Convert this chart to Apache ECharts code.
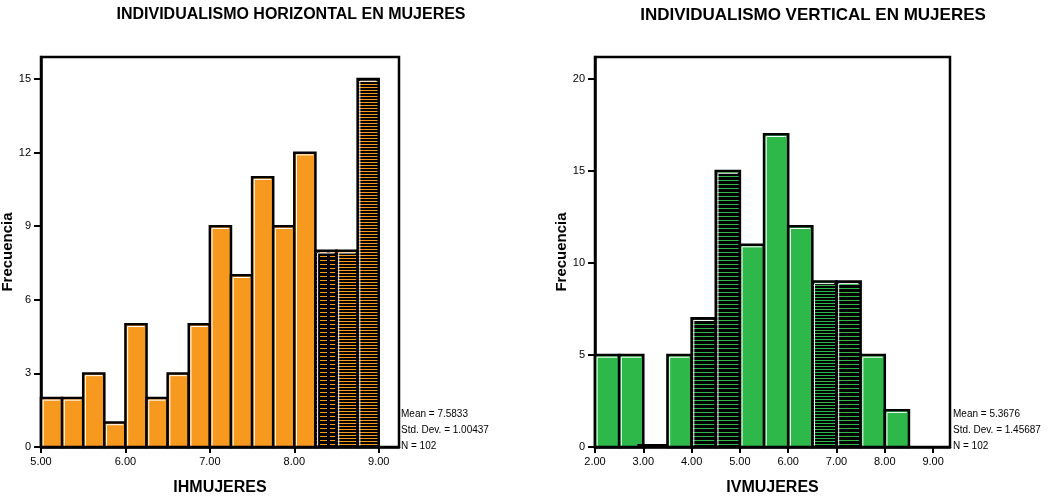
<!DOCTYPE html>
<html><head><meta charset="utf-8">
<script src="https://cdn.jsdelivr.net/npm/echarts@6/dist/echarts.min.js"></script>
<style>html,body{margin:0;padding:0;background:#fff}#c{width:1056px;height:496px}</style>
</head><body><div id="c"></div>
<script>
// ---------- DATA ----------
const hBinStarts = [5.00,5.25,5.50,5.75,6.00,6.25,6.50,6.75,7.00,7.25,7.50,7.75,8.00,8.25,8.50,8.75];
const hBinWidth = 0.25;
const hCounts = [2,2,3,1,5,2,3,5,9,7,11,9,12,8,8,15];
const hXTicks = [5,6,7,8,9];
const hYTicks = [0,3,6,9,12,15];
const hStats = ['Mean = 7.5833','Std. Dev. = 1.00437','N = 102'];
const hTitle = 'INDIVIDUALISMO HORIZONTAL EN MUJERES';
const hXName = 'IHMUJERES';

const vBinStarts = [2.0,2.5,3.0,3.5,4.0,4.5,5.0,5.5,6.0,6.5,7.0,7.5,8.0];
const vBinWidth = 0.5;
const vCounts = [5,5,0,5,7,15,11,17,12,9,9,5,2];
const vXTicks = [2,3,4,5,6,7,8,9];
const vYTicks = [0,5,10,15,20];
const vStats = ['Mean = 5.3676','Std. Dev. = 1.45687','N = 102'];
const vTitle = 'INDIVIDUALISMO VERTICAL EN MUJERES';
const vXName = 'IVMUJERES';

const yName = 'Frecuencia';

// ---------- STYLE ----------
const FONT = '"Liberation Sans", Arial, sans-serif';
const ORANGE = '#F7991F';
const GREEN = '#2EB84A';

function stripes(color, period, lines, w, dash) {
  const cv = document.createElement('canvas');
  cv.width = w; cv.height = period;
  const ctx = cv.getContext('2d');
  ctx.fillStyle = '#000'; ctx.fillRect(0,0,w,period);
  ctx.fillStyle = color;
  ctx.fillRect(0,0,dash,lines);
  return {image: cv, repeat: 'repeat'};
}
const hHatch = {
  '8.25': stripes(ORANGE, 4, 1, 10, 7),
  '8.5': stripes(ORANGE, 3, 1, 10, 10),
  '8.75': stripes(ORANGE, 3, 1, 10, 10)
};
const vHatch = {
  '4': stripes(GREEN, 4, 1, 10, 10),
  '4.5': stripes(GREEN, 4, 1, 10, 10),
  '6.5': stripes(GREEN, 3, 1, 10, 10),
  '7': stripes(GREEN, 4, 1, 10, 10)
};

function build(starts, width, counts) {
  return starts.map((s,i)=>[s, s+width, counts[i]]);
}

function makeRender(hatch, base) {
  return function(params, api) {
    const x0 = api.value(0), x1 = api.value(1), c = api.value(2);
    const pTop = api.coord([x0, c]);
    const pBot = api.coord([x1, 0]);
    let top = pTop[1];
    if (c === 0) top = pBot[1] - 3;
    const fill = hatch[String(x0)] || base;
    const children = [{
      type:'rect',
      shape:{x:pTop[0] - (c===0 ? 6 : 0), y:top, width:pBot[0]-pTop[0] + (c===0 ? 6 : 0), height:pBot[1]-top},
      style:{fill: c===0 ? '#000' : fill, stroke:'#000', lineWidth: c===0 ? 0 : 2.5}
    }];
    if (c > 0) {
      children.push({
        type:'polyline',
        shape:{points:[[pTop[0]+2.2, pBot[1]-1.5],[pTop[0]+2.2, top+2.2],[pBot[0]-2.2, top+2.2]]},
        style:{stroke:'#fff', lineWidth:1, fill:null}
      });
    }
    return {type:'group', children};
  };
}

function axisPair(gi, xmin, xmax, ymax, xTicks, yTicks, xName) {
  const x = {
    type:'value', gridIndex:gi, min:xmin, max:xmax,
    name:xName, nameLocation:'middle', nameGap:33,
    nameTextStyle:{fontFamily:FONT, fontWeight:'bold', fontSize:16, color:'#000'},
    axisLine:{show:true, lineStyle:{color:'#000', width:2.5}},
    axisTick:{show:true, length:6, lineStyle:{color:'#000', width:2}, customValues:xTicks},
    axisLabel:{fontFamily:FONT, fontSize:11, color:'#000', margin:9, customValues:xTicks,
      formatter:v=>Number(v).toFixed(2)},
    splitLine:{show:false}
  };
  const y = {
    type:'value', gridIndex:gi, min:0, max:ymax,
    name:yName, nameLocation:'middle', nameGap:25, nameRotate:90,
    nameTextStyle:{fontFamily:FONT, fontWeight:'bold', fontSize:15, color:'#000'},
    axisLine:{show:true, lineStyle:{color:'#000', width:2.5}},
    axisTick:{show:true, length:7, lineStyle:{color:'#000', width:2}, customValues:yTicks},
    axisLabel:{fontFamily:FONT, fontSize:11, color:'#000', margin:10, customValues:yTicks},
    splitLine:{show:false}
  };
  return [x,y];
}

const [hx, hy] = axisPair(0, 5, 9.24, 15.9, hXTicks, hYTicks, hXName);
const [vx, vy] = axisPair(1, 2, 9.35, 21.2, vXTicks, vYTicks, vXName);

function statText(lines, x) {
  return lines.map((t,i)=>({
    type:'text', x:x, y:414 + i*16,
    style:{text:t, font:'10px '+FONT, fill:'#000', verticalAlign:'middle', align:'left'}
  }));
}

const chart = echarts.init(document.getElementById('c'), null, {renderer:'canvas'});
chart.setOption({
  animation:false,
  backgroundColor:'#fff',
  grid:[
    {left:41, right:657, top:57, bottom:49, show:true, borderColor:'#000', borderWidth:2.5, backgroundColor:'transparent', containLabel:false, outerBoundsMode:'none'},
    {left:595, right:106, top:57, bottom:49, show:true, borderColor:'#000', borderWidth:2.5, backgroundColor:'transparent', containLabel:false, outerBoundsMode:'none'}
  ],
  xAxis:[hx, vx],
  yAxis:[hy, vy],
  graphic:[
    {type:'text', x:291, y:15, style:{text:hTitle, font:'bold 16px '+FONT, fill:'#000', align:'center', verticalAlign:'middle'}},
    {type:'text', x:813, y:15, style:{text:vTitle, font:'bold 17px '+FONT, fill:'#000', align:'center', verticalAlign:'middle'}},
    ...statText(hStats, 401),
    ...statText(vStats, 953)
  ],
  series:[
    {type:'custom', xAxisIndex:0, yAxisIndex:0, data:build(hBinStarts,hBinWidth,hCounts),
     encode:{x:[0,1], y:2}, renderItem:makeRender(hHatch, ORANGE), clip:false},
    {type:'custom', xAxisIndex:1, yAxisIndex:1, data:build(vBinStarts,vBinWidth,vCounts),
     encode:{x:[0,1], y:2}, renderItem:makeRender(vHatch, GREEN), clip:false}
  ]
});
</script>
</body></html>
